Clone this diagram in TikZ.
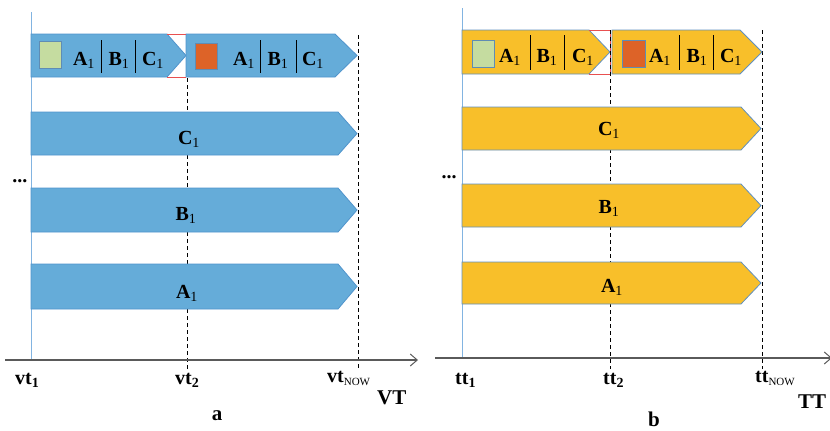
\documentclass[tikz,border=0pt]{standalone}
\usepackage{fontspec}
\setmainfont{Liberation Serif}
\usetikzlibrary{arrows.meta}

\definecolor{barblue}{RGB}{101,172,217}
\definecolor{barblueedge}{RGB}{80,148,204}
\definecolor{baryellow}{RGB}{248,191,42}
\definecolor{baryellowedge}{RGB}{96,144,192}
\definecolor{keygreen}{RGB}{197,220,160}
\definecolor{keyorange}{RGB}{221,99,40}
\definecolor{keyedge}{RGB}{95,140,180}
\definecolor{splitred}{RGB}{232,80,80}
\definecolor{axisgray}{RGB}{90,90,90}
\definecolor{startline}{RGB}{130,180,225}

\tikzset{
  bluebar/.style={fill=barblue, draw=barblueedge, line width=0.8pt},
  yellowbar/.style={fill=baryellow, draw=baryellowedge, line width=0.8pt},
  keybox/.style={draw=keyedge, line width=1pt},
  sepline/.style={draw=black, line width=1pt},
  splitmark/.style={draw=splitred, line width=1pt},
  timeaxis/.style={draw=axisgray, line width=1.3pt, -{Straight Barb[length=7pt,width=12pt,line width=1pt]}},
  startmark/.style={draw=startline, line width=1pt},
  nowmark/.style={draw=black, line width=0.9pt, dash pattern=on 4pt off 3pt},
  tag/.style={font=\fontsize{20}{24}\selectfont\bfseries, inner sep=0pt},
  caption/.style={font=\fontsize{21}{24}\selectfont\bfseries, inner sep=0pt},
}

% subscript index set in the regular weight
\newcommand\idx[1]{\textsubscript{\mdseries #1}}
% time stamp with a small NOW index
\newcommand\nowidx{\raisebox{-3pt}{\fontsize{11}{12}\selectfont\mdseries NOW}}
% pointed bar: left, notch, tip, top, bottom, style
\newcommand\timebar[6]{%
  \path[#6] (#1,#4) -- (#2,#4) -- (#3,{(#4+#5)/2}) -- (#2,#5) -- (#1,#5) -- cycle;}

\begin{document}
\begin{tikzpicture}[x=1pt,y=-1pt]
\useasboundingbox (0,0) rectangle (830,431);

% ---------------- panel a: valid time ----------------
\draw[startmark] (31,12) -- (31,360);
\draw[nowmark] (187,78) -- (187,369);
\draw[nowmark] (358,35) -- (358,369);

\timebar{31}{167}{186}{34}{77}{bluebar}
\timebar{186}{335}{357}{34}{77}{bluebar}
\draw[splitmark] (167,34) -- (186,34);
\draw[splitmark] (167,77) -- (186,77);

\draw[keybox, fill=keygreen] (39,41) rectangle (61,68);
\node[tag, anchor=base] (aA1) at (84,65) {A\idx{1}};
\draw[sepline] (101,40) -- (101,73);
\node[tag, anchor=base] (aB1) at (119,65) {B\idx{1}};
\draw[sepline] (135,40) -- (135,73);
\node[tag, anchor=base] (aC1) at (153,65) {C\idx{1}};

\draw[keybox, fill=keyorange] (195,43) rectangle (217,69);
\node[tag, anchor=base] (aA2) at (244,65) {A\idx{1}};
\draw[sepline] (260,40) -- (260,73);
\node[tag, anchor=base] (aB2) at (278,65) {B\idx{1}};
\draw[sepline] (296,40) -- (296,73);
\node[tag, anchor=base] (aC2) at (313,65) {C\idx{1}};

\timebar{31}{338}{357}{112}{155}{bluebar}
\timebar{31}{338}{357}{188}{232}{bluebar}
\timebar{31}{338}{357}{264}{309}{bluebar}
\node[tag, anchor=base] (aC) at (189,144) {C\idx{1}};
\node[tag, anchor=base] (aB) at (186,220) {B\idx{1}};
\node[tag, anchor=base] (aA) at (187,298) {A\idx{1}};
\node[tag, anchor=base] (adots) at (20,182) {...};

\draw[timeaxis] (5,360) -- (418,360);
\node[tag, anchor=base west] (vt1) at (15,384) {vt\textsubscript{1}};
\node[tag, anchor=base west] (vt2) at (175,384) {vt\textsubscript{2}};
\node[tag, anchor=base west] (vtnow) at (327,382) {vt\nowidx};
\node[caption, anchor=base west] (VT) at (377,404) {VT};
\node[caption, anchor=base] (capa) at (217,420) {a};

% ---------------- panel b: transaction time ----------------
\draw[startmark] (462,8) -- (462,358);
\draw[nowmark] (610,30) -- (610,369);
\draw[nowmark] (762,30) -- (762,369);

\timebar{462}{589}{610}{30}{74}{yellowbar}
\timebar{612}{740}{762}{30}{74}{yellowbar}
\draw[splitmark] (589,30) -- (610,30) -- (610,74) -- (589,74);
\draw[nowmark] (610,30) -- (610,78);

\draw[keybox, fill=keygreen] (472,40) rectangle (494,67);
\node[tag, anchor=base] (bA1) at (510,62) {A\idx{1}};
\draw[sepline] (530,35) -- (530,70);
\node[tag, anchor=base] (bB1) at (547,62) {B\idx{1}};
\draw[sepline] (564,35) -- (564,70);
\node[tag, anchor=base] (bC1) at (583,62) {C\idx{1}};

\draw[keybox, fill=keyorange] (622,40) rectangle (645,67);
\node[tag, anchor=base] (bA2) at (660,62) {A\idx{1}};
\draw[sepline] (679,35) -- (679,70);
\node[tag, anchor=base] (bB2) at (697,62) {B\idx{1}};
\draw[sepline] (713,35) -- (713,70);
\node[tag, anchor=base] (bC2) at (731,62) {C\idx{1}};

\timebar{462}{741}{761}{107}{150}{yellowbar}
\timebar{462}{741}{761}{184}{227}{yellowbar}
\timebar{462}{741}{761}{262}{304}{yellowbar}
\node[tag, anchor=base] (bC) at (609,135) {C\idx{1}};
\node[tag, anchor=base] (bB) at (609,213) {B\idx{1}};
\node[tag, anchor=base] (bA) at (612,292) {A\idx{1}};
\node[tag, anchor=base] (bdots) at (449,178) {...};

\draw[timeaxis] (435,358) -- (832,358);
\node[tag, anchor=base west] (tt1) at (455,384) {tt\textsubscript{1}};
\node[tag, anchor=base west] (tt2) at (603,384) {tt\textsubscript{2}};
\node[tag, anchor=base west] (ttnow) at (755,382) {tt\nowidx};
\node[caption, anchor=base west] (TT) at (798,408) {TT};
\node[caption, anchor=base] (capb) at (654,426) {b};
\end{tikzpicture}
\end{document}
